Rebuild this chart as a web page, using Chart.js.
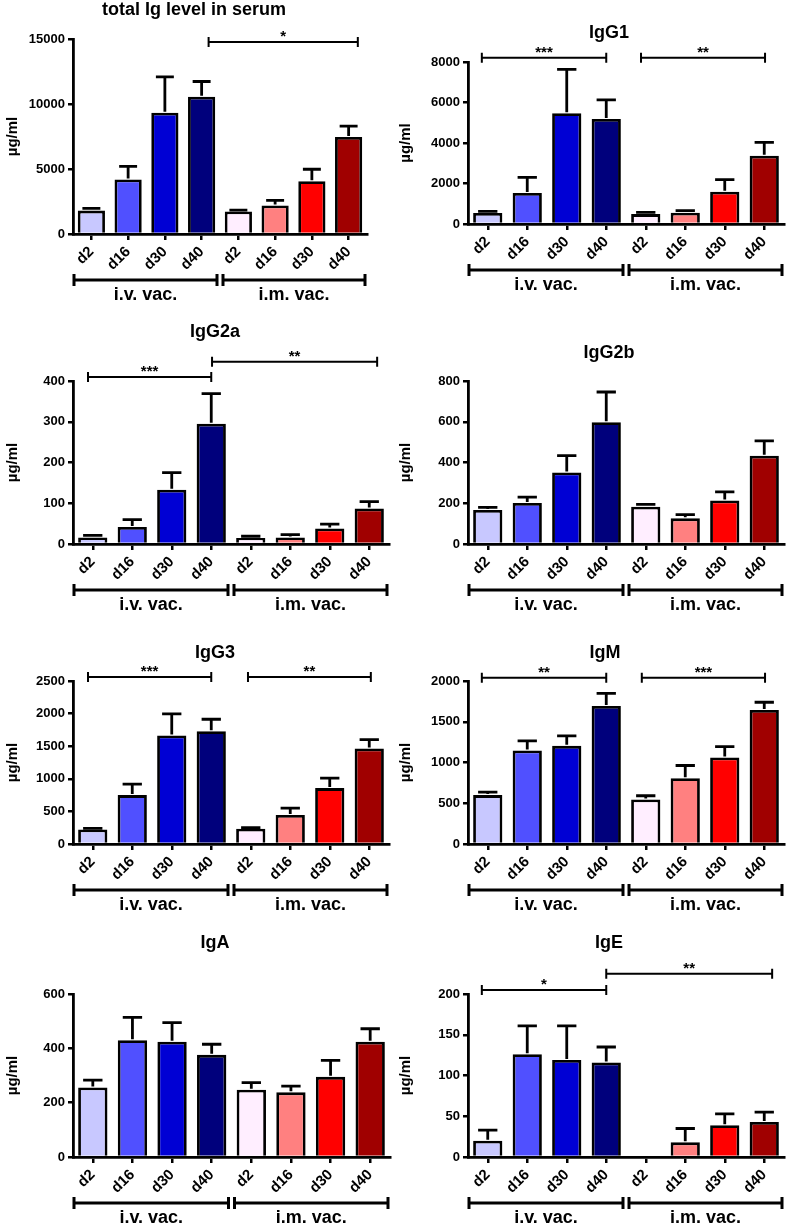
<!DOCTYPE html>
<html><head><meta charset="utf-8">
<script src="https://cdn.jsdelivr.net/npm/chart.js@4.4.0/dist/chart.umd.min.js"></script>
<style>
html,body{margin:0;padding:0;background:#fff;}
#wrap{position:relative;width:787px;height:1227px;overflow:hidden;background:#fff;}
canvas{position:absolute;}
</style></head><body><div id="wrap"></div>
<script>
// ---------- data ----------
const categories = ['d2','d16','d30','d40','d2','d16','d30','d40'];
const groupLabels = ['i.v. vac.', 'i.m. vac.'];
const barColors = ['#c8c8ff','#5050ff','#0000d4','#00007c','#ffeeff','#ff8080','#ff0000','#a00000'];
const yLabel = 'µg/ml';

const titles = ['total Ig level in serum','IgG1','IgG2a','IgG2b','IgG3','IgM','IgA','IgE'];

const totalIgMean = [1800, 4200, 9330, 10560, 1740, 2200, 4060, 7460];
const totalIgErr  = [1970, 5200, 12090, 11730, 1840, 2580, 4980, 8300];
const igG1Mean  = [540, 1530, 5470, 5190, 490, 560, 1590, 3370];
const igG1Err   = [620, 2300, 7640, 6130, 575, 660, 2190, 4030];
const igG2aMean = [16, 42, 133, 295, 15, 16, 38, 87];
const igG2aErr  = [21, 60, 175, 369, 19, 23, 49, 104];
const igG2bMean = [167, 201, 351, 598, 183, 126, 214, 433];
const igG2bErr  = [180, 230, 434, 746, 194, 144, 256, 506];
const igG3Mean  = [224, 750, 1663, 1730, 235, 444, 857, 1464];
const igG3Err   = [240, 918, 1995, 1913, 250, 551, 1010, 1602];
const igMMean   = [600, 1147, 1204, 1694, 547, 808, 1061, 1645];
const igMErr    = [637, 1265, 1327, 1849, 592, 963, 1196, 1739];
const igAMean   = [256, 430, 424, 376, 248, 238, 295, 424];
const igAErr    = [283, 514, 495, 415, 274, 261, 356, 472];
const igEMean   = [20, 126, 119, 116, null, 18, 39, 43];
const igEErr    = [33, 161, 161, 135, null, 35, 53, 55];

const yMax  = [15000, 8000, 400, 800, 2500, 2000, 600, 200];
const yStep = [5000, 2000, 100, 200, 500, 500, 200, 50];

// significance brackets: [from index, to index, y value, label]
const sigTotalIg = [[3.19, 7.25, 14770, '*']];
const sigIgG1  = [[-0.15, 3.0, 8214, '***'], [3.88, 7.02, 8214, '**']];
const sigIgG2a = [[-0.12, 3.0, 410, '***'], [3.02, 7.2, 447, '**']];
const sigIgG2b = [];
const sigIgG3  = [[-0.12, 3.0, 2561, '***'], [3.93, 7.04, 2561, '**']];
const sigIgM   = [[-0.15, 3.0, 2041, '**'], [3.9, 7.02, 2041, '***']];
const sigIgA   = [];
const sigIgE   = [[-0.15, 3.0, 205, '*'], [3.0, 7.2, 225, '**']];

const means = [totalIgMean, igG1Mean, igG2aMean, igG2bMean, igG3Mean, igMMean, igAMean, igEMean];
const errs  = [totalIgErr, igG1Err, igG2aErr, igG2bErr, igG3Err, igMErr, igAErr, igEErr];
const sigs  = [sigTotalIg, sigIgG1, sigIgG2a, sigIgG2b, sigIgG3, sigIgM, sigIgA, sigIgE];

// ---------- layout (pixels) ----------
const frames = [
  {cx:0,   cy:0,   cw:393, ch:300, l:73,  t:39,  r:367, b:234,  tx:194, ty:10},
  {cx:393, cy:0,   cw:394, ch:300, l:468, t:62,  r:784, b:224,  tx:609, ty:33},
  {cx:0,   cy:295, cw:393, ch:320, l:73,  t:381, r:389, b:544,  tx:215, ty:332},
  {cx:393, cy:295, cw:394, ch:320, l:468, t:381, r:784, b:544,  tx:609, ty:353},
  {cx:0,   cy:595, cw:393, ch:320, l:73,  t:681, r:389, b:844,  tx:215, ty:653},
  {cx:393, cy:595, cw:394, ch:320, l:468, t:681, r:784, b:844,  tx:605, ty:653},
  {cx:0,   cy:895, cw:393, ch:332, l:73,  t:994, r:390, b:1157, tx:215, ty:943},
  {cx:393, cy:895, cw:394, ch:332, l:468, t:994, r:784, b:1157, tx:609, ty:943}
];

const FONT = '"Liberation Sans", Arial, Helvetica, sans-serif';

const annotPlugin = {
  id: 'annot',
  afterDatasetsDraw(chart, args, o) {
    const ctx = chart.ctx, xs = chart.scales.x, ys = chart.scales.y;
    const meta = chart.getDatasetMeta(0);
    const ca = chart.chartArea;
    ctx.save();
    ctx.strokeStyle = '#000'; ctx.fillStyle = '#000';
    // error bars (upper)
    ctx.lineWidth = 2.8;
    o.err.forEach((e, i) => {
      const v = o.mean[i];
      if (e == null || v == null) return;
      const bar = meta.data[i];
      const x = bar.x, y0 = ys.getPixelForValue(v) - 1, y1 = ys.getPixelForValue(e);
      const hw = bar.width * 0.33;
      ctx.beginPath();
      ctx.moveTo(x, y0); ctx.lineTo(x, y1);
      ctx.moveTo(x - hw, y1); ctx.lineTo(x + hw, y1);
      ctx.stroke();
    });
    // title
    ctx.font = 'bold 18px ' + FONT;
    ctx.textAlign = 'center'; ctx.textBaseline = 'middle';
    ctx.fillText(o.title, o.tx, o.ty);
    // significance brackets
    o.sig.forEach(s => {
      const x1 = xs.getPixelForValue(s[0]), x2 = xs.getPixelForValue(s[1]);
      const y = ys.getPixelForValue(s[2]);
      ctx.lineWidth = 2;
      ctx.beginPath();
      ctx.moveTo(x1, y); ctx.lineTo(x2, y);
      ctx.moveTo(x1, y - 5); ctx.lineTo(x1, y + 5);
      ctx.moveTo(x2, y - 5); ctx.lineTo(x2, y + 5);
      ctx.stroke();
      ctx.font = 'bold 15px ' + FONT;
      ctx.textBaseline = 'alphabetic';
      ctx.fillText(s[3], (x1 + x2) / 2, y - 1);
    });
    // group brackets
    const gy = ca.bottom + 46;
    const spans = [[xs.getPixelForValue(-0.5), xs.getPixelForValue(3.5) - 2],
                   [xs.getPixelForValue(3.5) + 2, xs.getPixelForValue(7.5) - 1]];
    ctx.lineWidth = 3;
    spans.forEach((sp, k) => {
      ctx.beginPath();
      ctx.moveTo(sp[0], gy); ctx.lineTo(sp[1], gy);
      ctx.moveTo(sp[0] + 1, gy - 6); ctx.lineTo(sp[0] + 1, gy + 6);
      ctx.moveTo(sp[1] - 1, gy - 6); ctx.lineTo(sp[1] - 1, gy + 6);
      ctx.stroke();
      ctx.font = 'bold 18px ' + FONT;
      ctx.textBaseline = 'middle';
      ctx.fillText(groupLabels[k], (sp[0] + sp[1]) / 2, ca.bottom + 61);
    });
    ctx.restore();
  }
};

const wrap = document.getElementById('wrap');
frames.forEach((f, p) => {
  const c = document.createElement('canvas');
  c.width = f.cw; c.height = f.ch;
  c.style.left = f.cx + 'px'; c.style.top = f.cy + 'px';
  c.style.width = f.cw + 'px'; c.style.height = f.ch + 'px';
  wrap.appendChild(c);
  new Chart(c, {
    type: 'bar',
    data: {
      labels: categories,
      datasets: [{
        data: means[p],
        backgroundColor: barColors,
        borderColor: '#000',
        borderWidth: 2.8,
        borderSkipped: 'start',
        barPercentage: 0.74,
        categoryPercentage: 1.0
      }]
    },
    options: {
      responsive: false,
      animation: false,
      devicePixelRatio: 1,
      layout: { padding: { left: 0, top: f.t - f.cy, right: f.cx + f.cw - f.r, bottom: 0 } },
      plugins: {
        legend: { display: false },
        tooltip: { enabled: false },
        annot: { title: titles[p], tx: f.tx - f.cx, ty: f.ty - f.cy, mean: means[p], err: errs[p], sig: sigs[p] }
      },
      scales: {
        x: {
          type: 'category',
          offset: true,
          grid: { offset: false, drawOnChartArea: false, drawTicks: true, tickLength: 6, color: '#000', lineWidth: 2.5 },
          border: { display: true, color: '#000', width: 2.8 },
          ticks: { minRotation: 45, maxRotation: 45, autoSkip: false, color: '#000', padding: 3,
                   font: { family: FONT, size: 15, weight: 'bold' } },
          afterFit: (s) => { s.height = f.cy + f.ch - f.b; }
        },
        y: {
          min: 0, max: yMax[p],
          grid: { drawOnChartArea: false, drawTicks: true, tickLength: 5, color: '#000', lineWidth: 2.5 },
          border: { display: true, color: '#000', width: 2.8 },
          ticks: { stepSize: yStep[p], color: '#000', padding: 3,
                   font: { family: FONT, size: 13, weight: 'bold' },
                   callback: (v) => String(v) },
          title: { display: true, text: yLabel, color: '#000', font: { family: FONT, size: 15, weight: 'bold' }, padding: { top: 4, bottom: 4 } },
          afterFit: (s) => { s.width = f.l - f.cx; }
        }
      }
    },
    plugins: [annotPlugin]
  });
});
</script>
</body></html>
